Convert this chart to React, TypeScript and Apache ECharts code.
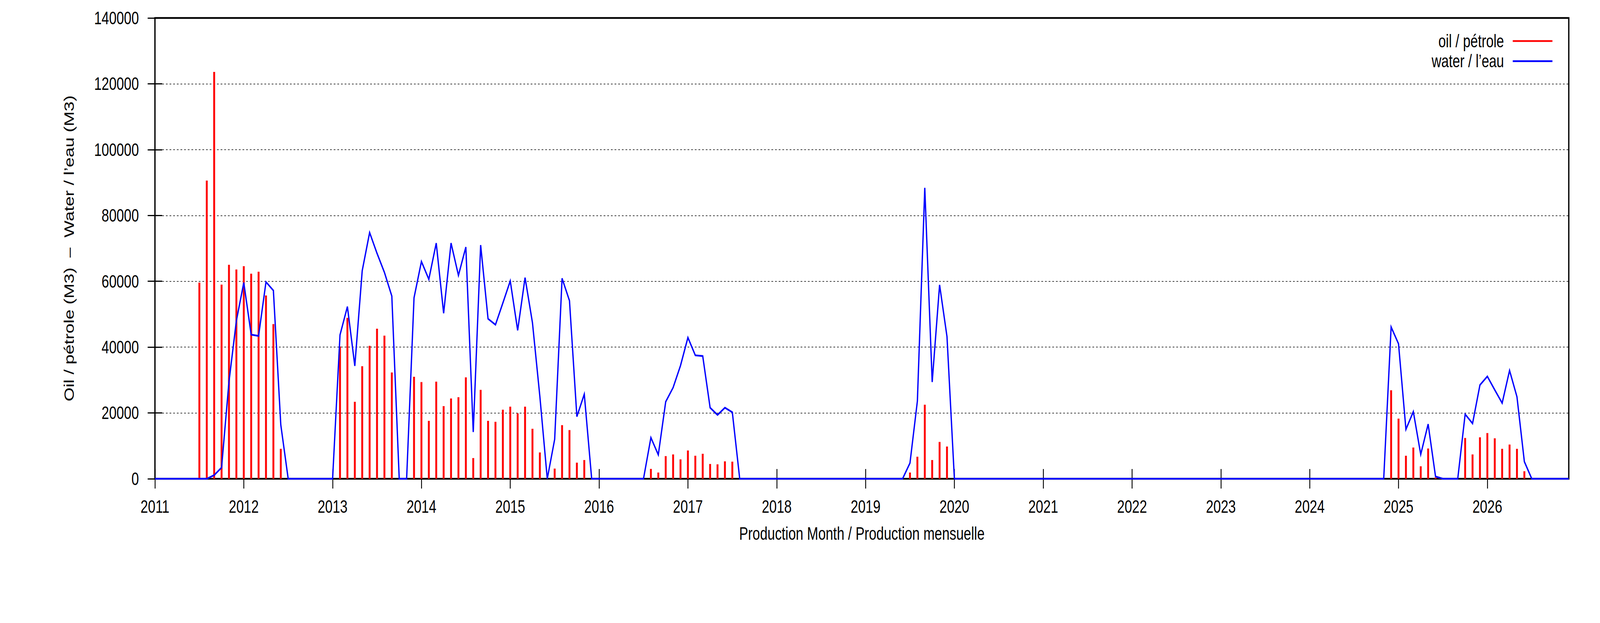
import React, { useEffect, useRef, useState } from 'react';
import * as echarts from 'echarts';

const W = 5483;
const H = 1594;
const FONT = '"Liberation Sans", Arial, Helvetica, sans-serif';

const START_YEAR = 2011;
const yearLabels = ['2011', '2012', '2013', '2014', '2015', '2016', '2017', '2018', '2019', '2020', '2021', '2022', '2023', '2024', '2025', '2026'];

// Monthly oil production (M3), Jan 2011 .. Dec 2026, 12 values per year
const oil = [
  0, 0, 0, 0, 0, 0, 59600, 90600, 123600, 59000, 65000, 63600, // 2011
  64600, 62300, 62900, 55700, 47000, 9100, 0, 0, 0, 0, 0, 0, // 2012
  0, 40200, 48900, 23400, 34200, 40400, 45600, 43500, 32300, 0, 0, 31000, // 2013
  29400, 17600, 29500, 22100, 24400, 24800, 30800, 6300, 27000, 17600, 17300, 21000, // 2014
  21900, 19900, 21900, 15200, 8000, 0, 3100, 16300, 14800, 4900, 5700, 0, // 2015
  0, 0, 0, 0, 0, 0, 0, 3000, 1900, 6900, 7400, 5900, // 2016
  8600, 7000, 7600, 4500, 4400, 5300, 5200, 0, 0, 0, 0, 0, // 2017
  0, 0, 0, 0, 0, 0, 0, 0, 0, 0, 0, 0, // 2018
  0, 0, 0, 0, 0, 0, 1900, 6700, 22500, 5700, 11200, 9800, // 2019
  0, 0, 0, 0, 0, 0, 0, 0, 0, 0, 0, 0, // 2020
  0, 0, 0, 0, 0, 0, 0, 0, 0, 0, 0, 0, // 2021
  0, 0, 0, 0, 0, 0, 0, 0, 0, 0, 0, 0, // 2022
  0, 0, 0, 0, 0, 0, 0, 0, 0, 0, 0, 0, // 2023
  0, 0, 0, 0, 0, 0, 0, 0, 0, 0, 0, 26900, // 2024
  18300, 7000, 9500, 3800, 9200, 400, 0, 0, 0, 12400, 7400, 12600, // 2025
  13900, 12300, 9100, 10400, 9100, 2300, 0, 0, 0, 0, 0, 0, // 2026
];

// Monthly water production (M3), Jan 2011 .. Dec 2026
const water = [
  0, 0, 0, 0, 0, 0, 0, 0, 1100, 3400, 29500, 48000, // 2011
  59600, 43800, 43400, 59800, 57200, 16400, 0, 0, 0, 0, 0, 0, // 2012
  0, 43700, 52300, 34300, 63200, 74800, 68500, 62700, 55500, 0, 0, 55000, // 2013
  66000, 60600, 71600, 50300, 71600, 61800, 70400, 14200, 71000, 48600, 46800, 53400, // 2014
  60100, 45100, 61100, 47400, 25000, 0, 12000, 60900, 54100, 18900, 25700, 0, // 2015
  0, 0, 0, 0, 0, 0, 0, 12500, 7300, 23400, 27700, 34400, // 2016
  42900, 37500, 37300, 21600, 19400, 21600, 20200, 0, 0, 0, 0, 0, // 2017
  0, 0, 0, 0, 0, 0, 0, 0, 0, 0, 0, 0, // 2018
  0, 0, 0, 0, 0, 0, 4800, 23600, 88400, 29400, 58900, 43200, // 2019
  0, 0, 0, 0, 0, 0, 0, 0, 0, 0, 0, 0, // 2020
  0, 0, 0, 0, 0, 0, 0, 0, 0, 0, 0, 0, // 2021
  0, 0, 0, 0, 0, 0, 0, 0, 0, 0, 0, 0, // 2022
  0, 0, 0, 0, 0, 0, 0, 0, 0, 0, 0, 0, // 2023
  0, 0, 0, 0, 0, 0, 0, 0, 0, 0, 0, 46100, // 2024
  41000, 15000, 20400, 7400, 16600, 700, 0, 0, 0, 19600, 16800, 28500, // 2025
  31100, 27000, 23000, 32900, 24900, 5200, 0, 0, 0, 0, 0, 0, // 2026
];

const yTicks = [0, 20000, 40000, 60000, 80000, 100000, 120000, 140000];

const OIL_NAME = 'oil / pétrole';
const WATER_NAME = 'water / l’eau';
const X_TITLE = 'Production Month / Production mensuelle';
const Y_TITLE = 'Oil / pétrole (M3) \u00A0–\u00A0 Water / l’eau (M3)';

function buildOption() {
  const months = oil.map((_, i) => {
    const y = START_YEAR + Math.floor(i / 12);
    const m = (i % 12) + 1;
    return `${y}-${m < 10 ? '0' : ''}${m}`;
  });
  const xMax = months.length - 1;
  const yearTickValues = yearLabels.map((_, i) => i * 12);
  const tickStyle = { color: '#000', width: 3 };
  const textBase = { fontFamily: FONT, fontSize: 46, color: '#000', lineHeight: 46 };

  return {
    animation: false,
    backgroundColor: '#ffffff',
    textStyle: { fontFamily: FONT },
    grid: {
      left: 531,
      top: 46,
      right: W - 5376,
      bottom: H - 1225,
      show: true,
      borderColor: '#000',
      borderWidth: 4.5,
      backgroundColor: 'transparent',
      containLabel: false,
      outerBoundsMode: 'none',
    },
    legend: {
      show: true,
      orient: 'vertical',
      right: 163,
      top: 82,
      align: 'right',
      padding: 0,
      itemGap: 5.5,
      itemWidth: 136,
      itemHeight: 4.5,
      selectedMode: false,
      itemStyle: { borderWidth: 0 },
      textStyle: { ...textBase, padding: [0, 25, 0, 0] },
      data: [
        { name: OIL_NAME, icon: 'rect' },
        { name: WATER_NAME, icon: 'rect' },
      ],
    },
    xAxis: [
      {
        type: 'value',
        position: 'bottom',
        min: 0,
        max: xMax,
        axisLine: { show: false },
        axisTick: { show: true, inside: false, length: 25, lineStyle: tickStyle, customValues: yearTickValues },
        axisLabel: {
          ...textBase,
          margin: 48,
          customValues: yearTickValues,
          formatter: (v: number) => yearLabels[Math.round(v / 12)] ?? '',
        },
        splitLine: { show: false },
        name: X_TITLE,
        nameLocation: 'middle',
        nameGap: 117,
        nameTextStyle: textBase,
      },
      {
        type: 'value',
        position: 'top',
        min: 0,
        max: xMax,
        axisLine: { show: false },
        axisTick: { show: true, inside: false, length: 25, lineStyle: tickStyle, customValues: yearTickValues },
        axisLabel: { show: false, customValues: yearTickValues },
        splitLine: { show: false },
      },
    ],
    yAxis: [
      {
        type: 'value',
        position: 'left',
        min: yTicks[0],
        max: yTicks[yTicks.length - 1],
        interval: yTicks[1] - yTicks[0],
        axisLine: { show: false },
        axisTick: { show: true, inside: false, length: 25, lineStyle: tickStyle },
        axisLabel: { ...textBase, margin: 55, formatter: (v: number) => String(v) },
        splitLine: { show: true, lineStyle: { color: '#000', width: 1.5, type: [6, 6.5] } },
        name: Y_TITLE,
        nameLocation: 'middle',
        nameRotate: 90,
        nameGap: 271,
        nameTextStyle: textBase,
      },
      {
        type: 'value',
        position: 'right',
        min: yTicks[0],
        max: yTicks[yTicks.length - 1],
        interval: yTicks[1] - yTicks[0],
        axisLine: { show: false },
        axisTick: { show: true, inside: false, length: 25, lineStyle: tickStyle },
        axisLabel: { show: false },
        splitLine: { show: false },
      },
    ],
    series: [
      {
        name: OIL_NAME,
        type: 'bar',
        xAxisIndex: 0,
        yAxisIndex: 0,
        barWidth: 6.5,
        itemStyle: { color: '#ff0000' },
        data: oil.map((v, i) => [i, v]),
        z: 2,
      },
      {
        name: WATER_NAME,
        type: 'line',
        xAxisIndex: 0,
        yAxisIndex: 0,
        showSymbol: false,
        symbol: 'none',
        itemStyle: { color: '#0000ff' },
        lineStyle: { color: '#0000ff', width: 4.5, join: 'miter' },
        data: water.map((v, i) => [i, v]),
        z: 3,
      },
    ],
  };
}

function viewportSize() {
  const vw = window.innerWidth || W;
  const vh = window.innerHeight || H;
  return { vw, vh };
}

export default function App() {
  const ref = useRef<HTMLDivElement>(null);
  const [size] = useState(() => viewportSize());
  const sx = Math.min(1, size.vw / W);
  const sy = Math.min(1, size.vh / H);

  useEffect(() => {
    document.body.style.margin = '0';
    document.body.style.overflow = 'hidden';
    const el = ref.current;
    if (!el) return;
    const chart = echarts.init(el, null, { renderer: 'svg', width: W, height: H });
    chart.setOption(buildOption() as any);
    return () => {
      chart.dispose();
    };
  }, []);

  return (
    <div style={{ position: 'relative', width: Math.round(W * sx), height: Math.round(H * sy), overflow: 'hidden', background: '#fff' }}>
      <div
        ref={ref}
        style={{
          position: 'absolute',
          left: 0,
          top: 0,
          width: W,
          height: H,
          background: '#fff',
          transform: `scale(${sx}, ${sy})`,
          transformOrigin: '0 0',
        }}
      />
    </div>
  );
}
